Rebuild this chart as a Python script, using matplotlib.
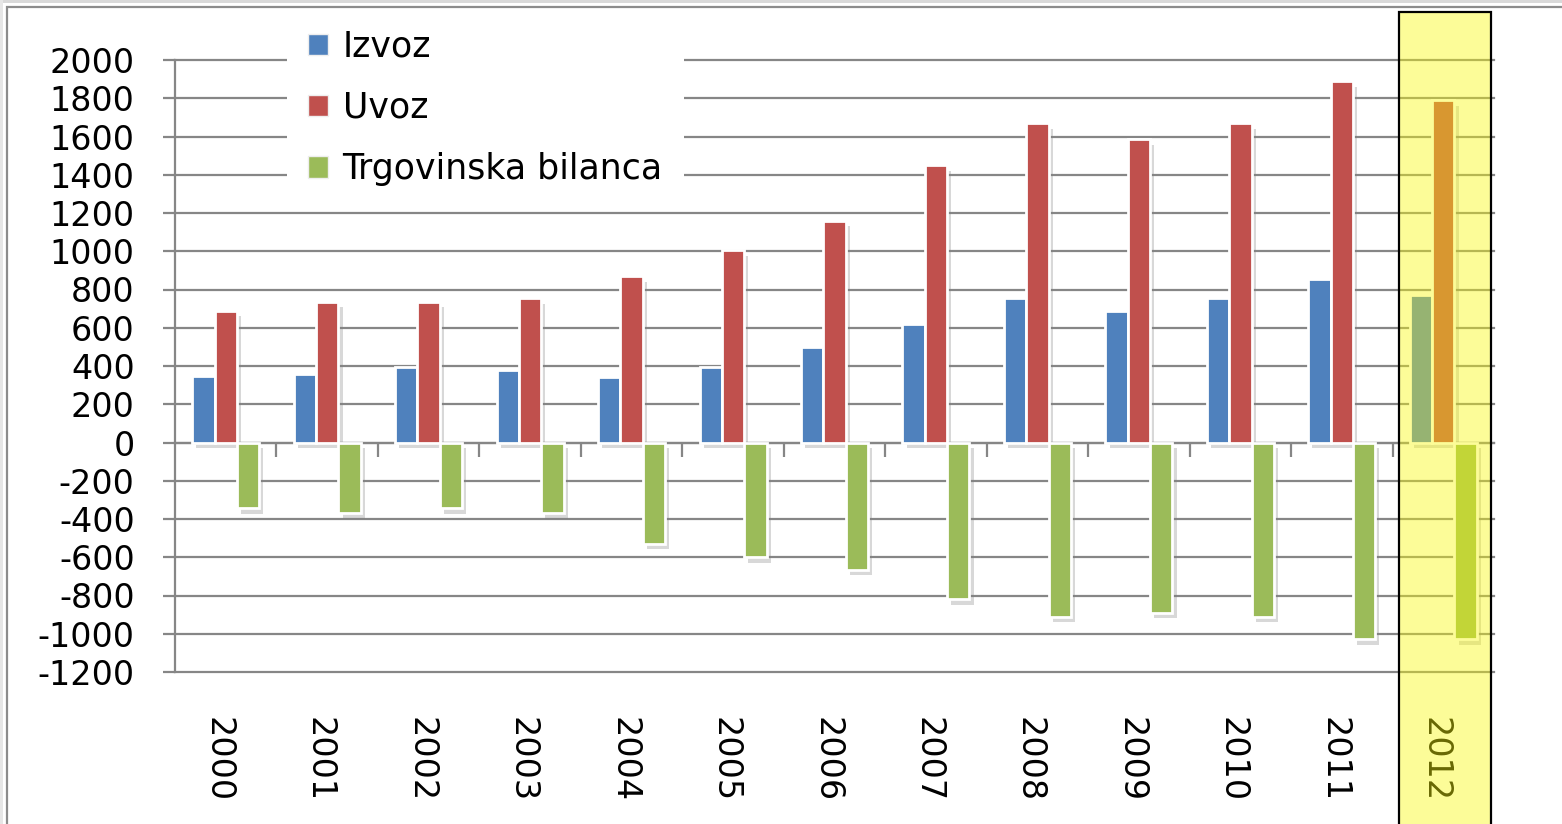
import numpy as np
import matplotlib
matplotlib.use("Agg")
import matplotlib.pyplot as plt
from matplotlib.patches import Rectangle, Patch
from matplotlib import transforms
import matplotlib.patheffects as pe

years = ["2000", "2001", "2002", "2003", "2004", "2005", "2006",
         "2007", "2008", "2009", "2010", "2011", "2012"]
izvoz = [350, 360, 395, 380, 345, 395, 500, 620, 755, 690, 755, 855, 770]
uvoz = [690, 735, 735, 755, 870, 1005, 1160, 1450, 1670, 1585, 1670, 1890, 1790]
bilanca = [-345, -370, -345, -370, -530, -600, -665, -820, -910, -890, -910, -1030, -1030]
series_names = ["Izvoz", "Uvoz", "Trgovinska bilanca"]
series_colors = ["#4F81BD", "#C0504D", "#9BBB59"]
yticks = list(range(-1200, 2001, 200))
highlight_year = "2012"

W, H = 1562, 824
fig = plt.figure(figsize=(W / 100, H / 100), dpi=100)
fig.patch.set_facecolor("white")
ax = fig.add_axes([175 / W, 1 - 672 / H, (1494 - 175) / W, (672 - 60) / H])

grey = "#868686"
x = np.arange(len(years))
bw = 0.22
shadow = [pe.SimplePatchShadow(offset=(3, -4), shadow_rgbFace="#808080", alpha=0.3), pe.Normal()]
for vals, off, col in zip([izvoz, uvoz, bilanca], [-bw, 0, bw], series_colors):
    bars = ax.bar(x + off, vals, width=bw, color=col, edgecolor="white", linewidth=2.0, zorder=3)
    for b in bars:
        b.set_path_effects(shadow)

ax.set_xlim(-0.5, len(years) - 0.5)
ax.set_ylim(min(yticks), max(yticks))
ax.set_yticks(yticks)
ax.set_yticklabels([str(v) for v in yticks], fontsize=24, family="DejaVu Sans")
ax.yaxis.grid(True, color=grey, linewidth=1.6, zorder=1)
for gl in ax.get_ygridlines():
    gl.set_clip_on(False)
ax.set_axisbelow(True)
ax.tick_params(axis="y", length=9, width=1.6, color=grey, pad=20)

ax.spines["top"].set_visible(False)
ax.spines["right"].set_visible(False)
ax.spines["left"].set_color(grey)
ax.spines["left"].set_linewidth(1.6)
ax.spines["bottom"].set_position(("data", 0))
ax.spines["bottom"].set_color(grey)
ax.spines["bottom"].set_linewidth(1.6)
ax.set_xticks(x)
ax.set_xticklabels([])
ax.tick_params(axis="x", which="major", length=0)
ax.set_xticks(x[:-1] + 0.5, minor=True)
ax.tick_params(axis="x", which="minor", length=10, width=1.6, color=grey, direction="out")

trans = transforms.blended_transform_factory(ax.transData, ax.transAxes)
trans = transforms.offset_copy(trans, fig=fig, x=-8, y=0, units="dots")
for xi, yr in zip(x, years):
    ax.text(xi, -0.073, yr, rotation=270, ha="center", va="top", fontsize=24,
            family="DejaVu Sans", transform=trans, color="black")

# legend
handles = [Patch(facecolor=c, edgecolor="#eeeeee", linewidth=1) for c in series_colors]
leg = ax.legend(handles, series_names, loc="upper left",
                bbox_to_anchor=(287 / W, 1 - 9 / H), bbox_transform=fig.transFigure,
                fontsize=25, frameon=True, facecolor="white", edgecolor="none", framealpha=1,
                handlelength=0.58, handleheight=0.58, handletextpad=0.42, labelspacing=0.78,
                borderpad=0.6, borderaxespad=0, fancybox=False)
leg.set_zorder(5)

# highlight for last year
hi = years.index(highlight_year)
tr2 = transforms.blended_transform_factory(ax.transData, fig.transFigure)
fig.add_artist(Rectangle((hi - 0.44, -0.05), 0.91, 1.05 - 12 / H, transform=tr2,
                         facecolor=(250 / 255, 250 / 255, 10 / 255), alpha=0.42,
                         edgecolor="none", zorder=10))
fig.add_artist(Rectangle((hi - 0.44, -0.05), 0.91, 1.05 - 12 / H, transform=tr2,
                         facecolor="none", edgecolor="black", linewidth=1.6, zorder=11))

# outer frame
fig.add_artist(Rectangle((7.5 / W, -0.1), 1.2, 1.1 - 7.5 / H, transform=fig.transFigure,
                         facecolor="none", edgecolor="#8c8c8c", linewidth=1.6, zorder=12))
fig.add_artist(Rectangle((0, 1 - 2.5 / H), 1, 2.5 / H, transform=fig.transFigure,
                         facecolor="#d9d9d9", edgecolor="none", zorder=12))
fig.add_artist(Rectangle((0, 0), 2.5 / W, 1, transform=fig.transFigure,
                         facecolor="#e6e6e6", edgecolor="none", zorder=12))

fig.savefig("out.png", dpi=100)
